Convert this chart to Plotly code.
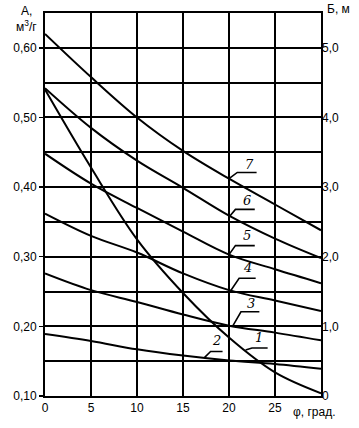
import numpy as np
import plotly.graph_objects as go

# ---- data ----
phi = [0, 5, 10, 15, 20, 25, 30]
curve_1 = [0.540, 0.428, 0.325, 0.248, 0.184, 0.134, 0.104]
curve_2 = [0.189, 0.179, 0.167, 0.158, 0.151, 0.146, 0.139]
curve_3 = [0.276, 0.252, 0.235, 0.217, 0.201, 0.191, 0.180]
curve_4 = [0.362, 0.330, 0.306, 0.276, 0.252, 0.237, 0.222]
curve_5 = [0.448, 0.405, 0.370, 0.336, 0.303, 0.282, 0.262]
curve_6 = [0.542, 0.485, 0.438, 0.399, 0.359, 0.326, 0.298]
curve_7 = [0.620, 0.558, 0.500, 0.452, 0.412, 0.375, 0.338]
curve_labels = ["1", "2", "3", "4", "5", "6", "7"]

x_tick_vals = [0, 5, 10, 15, 20, 25]
x_tick_text = ["0", "5", "10", "15", "20", "25"]
a_tick_vals = [0.10, 0.20, 0.30, 0.40, 0.50, 0.60]
a_tick_text = ["0,10", "0,20", "0,30", "0,40", "0,50", "0,60"]
b_tick_vals = [0, 1, 2, 3, 4, 5]
b_tick_text = ["0", "1,0", "2,0", "3,0", "4,0", "5,0"]

curves = [curve_1, curve_2, curve_3, curve_4, curve_5, curve_6, curve_7]

# leader geometry (layout): phi on curve, elbow (phi, A), bar end phi, text (phi, A)
leaders = [
    (21.8, 22.5, 0.169, 24.2, 23.3, 0.184),
    (17.3, 18.0, 0.164, 19.3, 18.6, 0.180),
    (20.4, 21.3, 0.221, 23.3, 22.4, 0.233),
    (20.2, 21.1, 0.269, 22.9, 22.0, 0.285),
    (20.0, 20.7, 0.316, 22.8, 22.0, 0.331),
    (20.1, 20.7, 0.368, 22.8, 22.0, 0.381),
    (20.0, 20.9, 0.421, 23.0, 22.2, 0.433),
]

FONT = "Liberation Sans, Arial, sans-serif"
fig = go.Figure()

for ys in curves:
    fig.add_trace(go.Scatter(x=phi, y=ys, mode="lines",
                             line=dict(color="black", width=2, shape="spline", smoothing=1.0),
                             hoverinfo="skip", showlegend=False))

annotations = []
for ys, lab, (pc, pe, ae, pb, tx, ty) in zip(curves, curve_labels, leaders):
    ac = float(np.interp(pc, phi, ys))
    fig.add_trace(go.Scatter(x=[pc, pe, pb], y=[ac, ae, ae], mode="lines",
                             line=dict(color="black", width=1.6),
                             hoverinfo="skip", showlegend=False))
    annotations.append(dict(x=tx, y=ty, xref="x", yref="y", text="<i>" + lab + "</i>", showarrow=False,
                            font=dict(family="DejaVu Serif, serif", size=13, color="black"),
                            xanchor="center", yanchor="middle"))

# invisible trace for the right axis
fig.add_trace(go.Scatter(x=[0, 30], y=[0, 5.5], yaxis="y2", mode="lines",
                         line=dict(width=0, color="rgba(0,0,0,0)"), hoverinfo="skip", showlegend=False))

W, H = 359, 428
ml, mt = 45, 13
mr = W - 321
mb = H - 396
pw, ph = W - ml - mr, H - mt - mb

def px(xp):
    return (xp - ml) / pw

def py(yp):
    return (H - mb - yp) / ph

annotations += [
    dict(x=px(26), y=py(11), xref="paper", yref="paper", text="А,", showarrow=False,
         font=dict(family=FONT, size=12, color="black"), xanchor="center", yanchor="middle"),
    dict(x=px(26), y=py(26), xref="paper", yref="paper", text="м<sup>3</sup>/г", showarrow=False,
         font=dict(family=FONT, size=12, color="black"), xanchor="center", yanchor="middle"),
    dict(x=px(325), y=py(9), xref="paper", yref="paper", text="Б, м", showarrow=False,
         font=dict(family=FONT, size=12, color="black"), xanchor="left", yanchor="middle"),
    dict(x=px(314), y=py(412), xref="paper", yref="paper", text="φ, град.", showarrow=False,
         font=dict(family=FONT, size=12, color="black"), xanchor="center", yanchor="middle"),
]

fig.update_layout(
    width=W, height=H,
    margin=dict(l=ml, r=mr, t=mt, b=mb, pad=0, autoexpand=False),
    paper_bgcolor="white", plot_bgcolor="white",
    font=dict(family=FONT, size=12, color="black"),
    showlegend=False,
    xaxis=dict(range=[0, 30], tickvals=x_tick_vals, ticktext=x_tick_text,
               showgrid=True, gridcolor="black", gridwidth=2,
               showline=True, linecolor="black", linewidth=2, mirror=True,
               ticks="", zeroline=False, fixedrange=True, automargin=False),
    yaxis=dict(range=[0.10, 0.65], tickvals=a_tick_vals, ticktext=a_tick_text,
               showgrid=True, gridcolor="black", gridwidth=2,
               minor=dict(tick0=0.10, dtick=0.05, showgrid=True, gridcolor="black", gridwidth=2),
               showline=True, linecolor="black", linewidth=2, mirror=True,
               ticks="outside", ticklen=4, tickwidth=1.5, tickcolor="black",
               zeroline=False, fixedrange=True, automargin=False),
    yaxis2=dict(range=[0, 5.5], tickvals=b_tick_vals, ticktext=b_tick_text,
                overlaying="y", side="right", showgrid=False, zeroline=False,
                showline=False, ticks="", fixedrange=True, automargin=False),
    annotations=annotations,
)

fig.write_html("out.html", config={"displayModeBar": False, "staticPlot": True},
               post_script="document.body.style.margin='0';document.body.style.overflow='hidden';")
